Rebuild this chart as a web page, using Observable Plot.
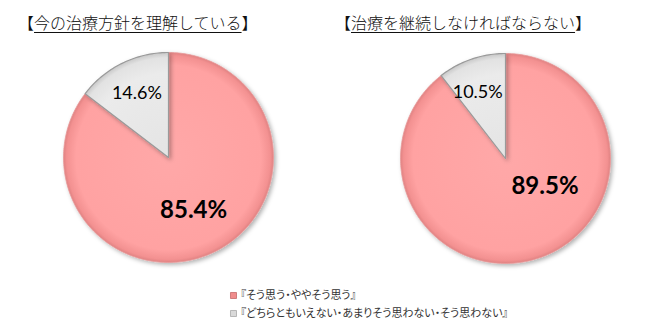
<!DOCTYPE html>
<html><head><meta charset="utf-8">
<script src="https://cdn.jsdelivr.net/npm/d3@7"></script>
<script src="https://cdn.jsdelivr.net/npm/@observablehq/plot@0.6"></script>
<style>
body{margin:0;background:#fff;}
#wrap{position:relative;width:650px;height:334px;overflow:hidden;}
.title{position:absolute;top:13px;font-family:"Noto Sans CJK JP";font-weight:300;font-size:16px;line-height:18px;color:#111;white-space:nowrap;}
.title u{text-decoration-thickness:1.3px;text-underline-offset:3px;}
svg text.lg{font-feature-settings:"palt";}
</style></head><body>
<div id="wrap"></div>
<script>
// ---- data ----
const titles = ["今の治療方針を理解している", "治療を継続しなければならない"];
const categories = ["『そう思う・ややそう思う』", "『どちらともいえない・あまりそう思わない・そう思わない』"];
const agree = [85.4, 89.5];
const disagree = [14.6, 10.5];

// ---- layout / style ----
const W = 650, H = 334;
const centers = [[168, 157], [505, 158]];
const R = 105;
const titleLeft = [18, 335];
// [radius fraction, angle shift in degrees] for [agree, disagree] labels of each chart
const labelLayout = [
  [[0.56, 1], [0.68, 0]],
  [[0.46, -36], [0.68, -4]]
];

const wrap = document.getElementById("wrap");

const polys = [];
const labels = [];
const pie = d3.pie().sort(null);
[0, 1].forEach(i => {
  const vals = [agree[i], disagree[i]];
  const arcs = pie(vals);
  const [cx, cy] = centers[i];
  arcs.forEach((a, j) => {
    const id = `c${i}s${j}`;
    const pts = [{id, chart: i, slice: j, x: cx, y: cy}];
    const n = Math.max(2, Math.ceil((a.endAngle - a.startAngle) / 0.02));
    for (let k = 0; k <= n; k++) {
      const t = a.startAngle + (a.endAngle - a.startAngle) * k / n;
      pts.push({id, chart: i, slice: j, x: cx + R * Math.sin(t), y: cy - R * Math.cos(t)});
    }
    pts.push({id, chart: i, slice: j, x: cx, y: cy});
    polys.push(...pts);
    const [rf, shift] = labelLayout[i][j];
    const m = (a.startAngle + a.endAngle) / 2 + shift * Math.PI / 180;
    labels.push({chart: i, slice: j, text: vals[j].toFixed(1) + "%",
      x: cx + rf * R * Math.sin(m), y: cy - rf * R * Math.cos(m)});
  });
});

const legend = categories.map((c, j) => ({text: c, slice: j, row: j}));
const legendX = 233, legendY0 = 295, legendDY = 18;

const marks = [];
[0, 1].forEach(i => {
  marks.push(Plot.line(polys.filter(d => d.chart === i && d.slice === 0), {
    x: "x", y: "y", z: "id", fill: `url(#pink${i})`, stroke: "#e89a9a", strokeWidth: 0.8, curve: "linear"
  }));
  marks.push(Plot.line(polys.filter(d => d.chart === i && d.slice === 1), {
    x: "x", y: "y", z: "id", fill: `url(#gray${i})`, stroke: "#9a9a9a", strokeWidth: 1.2, curve: "linear"
  }));
});
marks.push(Plot.text(labels.filter(d => d.slice === 0), {
  x: "x", y: "y", text: "text", fontSize: 24, fontWeight: "bold", fill: "#000", fontFamily: "Lato"
}));
marks.push(Plot.text(labels.filter(d => d.slice === 1), {
  x: "x", y: "y", text: "text", fontSize: 18, fill: "#000", fontFamily: "Lato"
}));
marks.push(Plot.dot(legend, {
  x: () => legendX, y: d => legendY0 + d.row * legendDY, symbol: "square", r: 3.4,
  fill: d => d.slice === 0 ? "#f08c8c" : "#d9d9d9", stroke: d => d.slice === 0 ? "#c46a6a" : "#a8a8a8", strokeWidth: 0.8
}));
marks.push(Plot.text(legend, {
  x: () => legendX + 7, y: d => legendY0 + d.row * legendDY, text: "text", textAnchor: "start",
  fontSize: 11, fill: "#333", fontFamily: "Noto Sans CJK JP"
}));

const svg = Plot.plot({
  width: W, height: H,
  margin: 0,
  x: {type: "identity", axis: null},
  y: {type: "identity", axis: null},
  style: {background: "#fff"},
  marks
});

// gradients
const ns = "http://www.w3.org/2000/svg";
const defs = document.createElementNS(ns, "defs");
let defHTML = "";
centers.forEach(([cx, cy], i) => {
  defHTML += `<radialGradient id="pink${i}" gradientUnits="userSpaceOnUse" cx="${cx}" cy="${cy}" r="${R}">
    <stop offset="0" stop-color="#ffa8a8"/><stop offset="0.88" stop-color="#ffa2a2"/><stop offset="0.97" stop-color="#f39191"/><stop offset="1" stop-color="#e08282"/></radialGradient>
    <radialGradient id="gray${i}" gradientUnits="userSpaceOnUse" cx="${cx}" cy="${cy}" r="${R}">
    <stop offset="0" stop-color="#e4e4e4"/><stop offset="0.8" stop-color="#ebebeb"/><stop offset="0.95" stop-color="#e2e2e2"/><stop offset="1" stop-color="#c8c8c8"/></radialGradient>`;
});
defHTML += `<filter id="sh" x="-20%" y="-20%" width="140%" height="140%"><feDropShadow dx="2" dy="2" stdDeviation="2" flood-color="#000" flood-opacity="0.3"/></filter>`;
defs.innerHTML = defHTML;
svg.insertBefore(defs, svg.firstChild);
svg.querySelectorAll('g[aria-label="line"]').forEach(g => g.setAttribute("filter", "url(#sh)"));
const textGroups = svg.querySelectorAll('g[aria-label="text"]');
textGroups[textGroups.length - 1].querySelectorAll("text").forEach(t => t.classList.add("lg"));

wrap.appendChild(svg);

titles.forEach((t, i) => {
  const d = document.createElement("div");
  d.className = "title";
  d.style.left = titleLeft[i] + "px";
  d.innerHTML = `【<u>${t}</u>】`;
  wrap.appendChild(d);
});
</script>
</body></html>
